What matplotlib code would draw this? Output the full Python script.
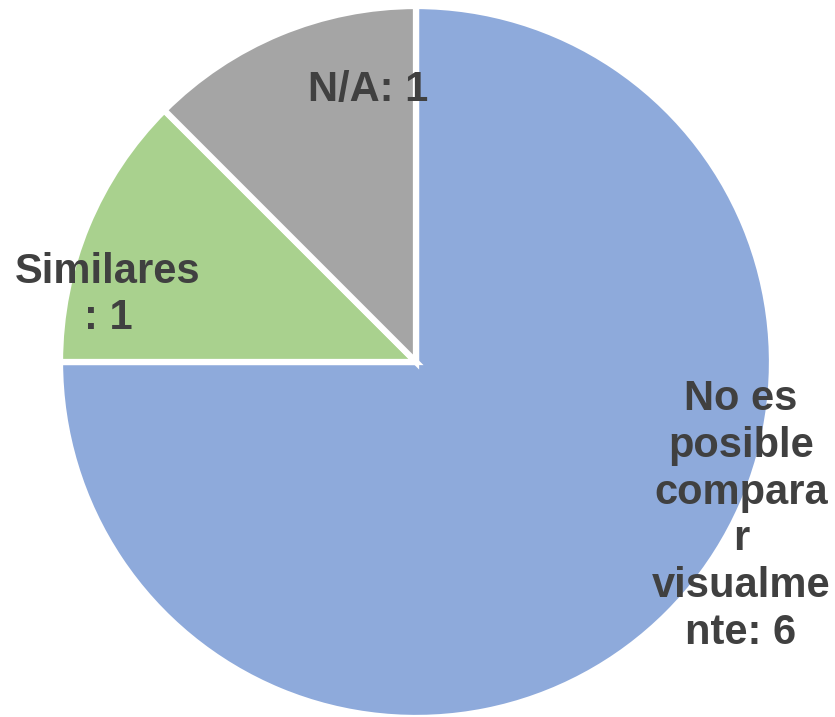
import matplotlib
matplotlib.use('Agg')
import matplotlib.pyplot as plt

# data
categories = ["No es posible comparar visualmente", "Similares", "N/A"]
values = [6, 1, 1]
colors = ["#8EAADB", "#A9D18E", "#A5A5A5"]
# label text as wrapped in the original chart
label_text = ["No es\nposible\ncompara\nr\nvisualme\nnte: 6", "Similares\n: 1", "N/A: 1"]

W, H = 835, 717
cx, cy, R = 416, 362, 356

fig = plt.figure(figsize=(W / 100, H / 100), dpi=100)
ax = fig.add_axes([0, 0, 1, 1])
ax.axis('off')

ax.pie(values, colors=colors, startangle=90, counterclock=False, radius=1,
       wedgeprops=dict(edgecolor='white', linewidth=4.5, joinstyle='miter'))
ax.set_xlim(-cx / R, (W - cx) / R)
ax.set_ylim(-(H - cy) / R, cy / R)

# label positions in pixels (from top-left)
label_pos = [(741, 516), (108, 295), (368, 90)]
for txt, (px, py) in zip(label_text, label_pos):
    ax.text((px - cx) / R, (cy - py) / R, txt, ha='center', va='center',
            fontsize=30, fontweight='bold', color='#404040',
            family='Liberation Sans', linespacing=1.22)

fig.savefig('out.png', dpi=100)
